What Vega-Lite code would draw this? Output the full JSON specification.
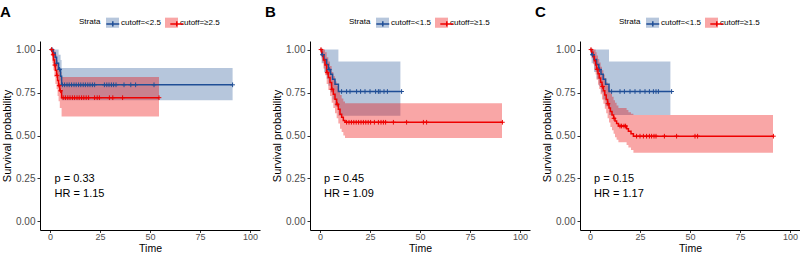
{
  "$schema": "https://vega.github.io/schema/vega-lite/v6.json",
  "padding": {"left": 0, "top": 5, "right": 0, "bottom": 0},
  "background": "white",
  "config": {
    "view": {"stroke": null},
    "font": "Liberation Sans",
    "axis": {"grid": false, "domainColor": "black", "domainWidth": 1, "tickColor": "#333333", "tickSize": 3, "labelFont": "Liberation Sans", "labelFontSize": 10, "labelColor": "#4D4D4D", "labelPadding": 2, "titleFont": "Liberation Sans", "titleFontSize": 11, "titleFontWeight": "normal", "titleColor": "black"},
    "axisX": {"labelFontSize": 9, "labelPadding": 0, "tickSize": 2.5, "titlePadding": 1.5, "titleFontSize": 10.5},
    "legend": {"labelFont": "Liberation Sans", "titleFont": "Liberation Sans"},
    "title": {"font": "Liberation Sans"}
  },
  "datasets": {
    "curve": [
      {"p": "A", "g": "cutoff=<2.5", "t": 0, "s": 1.0},
      {"p": "A", "g": "cutoff=<2.5", "t": 1.6, "s": 0.98},
      {"p": "A", "g": "cutoff=<2.5", "t": 2.6, "s": 0.955},
      {"p": "A", "g": "cutoff=<2.5", "t": 3.3, "s": 0.92},
      {"p": "A", "g": "cutoff=<2.5", "t": 4.3, "s": 0.885},
      {"p": "A", "g": "cutoff=<2.5", "t": 5.3, "s": 0.845},
      {"p": "A", "g": "cutoff=<2.5", "t": 5.8, "s": 0.795},
      {"p": "A", "g": "cutoff=<2.5", "t": 91.3, "s": 0.795},
      {"p": "A", "g": "cutoff=≥2.5", "t": 0, "s": 1.0},
      {"p": "A", "g": "cutoff=≥2.5", "t": 1.2, "s": 0.97},
      {"p": "A", "g": "cutoff=≥2.5", "t": 1.7, "s": 0.94},
      {"p": "A", "g": "cutoff=≥2.5", "t": 2.2, "s": 0.91},
      {"p": "A", "g": "cutoff=≥2.5", "t": 2.7, "s": 0.88},
      {"p": "A", "g": "cutoff=≥2.5", "t": 3.3, "s": 0.85},
      {"p": "A", "g": "cutoff=≥2.5", "t": 3.8, "s": 0.82},
      {"p": "A", "g": "cutoff=≥2.5", "t": 4.3, "s": 0.79},
      {"p": "A", "g": "cutoff=≥2.5", "t": 4.9, "s": 0.76},
      {"p": "A", "g": "cutoff=≥2.5", "t": 5.8, "s": 0.72},
      {"p": "A", "g": "cutoff=≥2.5", "t": 54.5, "s": 0.72},
      {"p": "B", "g": "cutoff=<1.5", "t": 0, "s": 1.0},
      {"p": "B", "g": "cutoff=<1.5", "t": 0.8, "s": 0.97},
      {"p": "B", "g": "cutoff=<1.5", "t": 2.0, "s": 0.942},
      {"p": "B", "g": "cutoff=<1.5", "t": 3.3, "s": 0.913},
      {"p": "B", "g": "cutoff=<1.5", "t": 4.2, "s": 0.884},
      {"p": "B", "g": "cutoff=<1.5", "t": 5.3, "s": 0.856},
      {"p": "B", "g": "cutoff=<1.5", "t": 6.3, "s": 0.827},
      {"p": "B", "g": "cutoff=<1.5", "t": 7.5, "s": 0.798},
      {"p": "B", "g": "cutoff=<1.5", "t": 9.2, "s": 0.756},
      {"p": "B", "g": "cutoff=<1.5", "t": 40.8, "s": 0.756},
      {"p": "B", "g": "cutoff=≥1.5", "t": 0, "s": 1.0},
      {"p": "B", "g": "cutoff=≥1.5", "t": 0.8, "s": 0.985},
      {"p": "B", "g": "cutoff=≥1.5", "t": 1.2, "s": 0.965},
      {"p": "B", "g": "cutoff=≥1.5", "t": 1.7, "s": 0.94},
      {"p": "B", "g": "cutoff=≥1.5", "t": 2.5, "s": 0.91},
      {"p": "B", "g": "cutoff=≥1.5", "t": 3.33, "s": 0.866},
      {"p": "B", "g": "cutoff=≥1.5", "t": 4.17, "s": 0.837},
      {"p": "B", "g": "cutoff=≥1.5", "t": 5.0, "s": 0.808},
      {"p": "B", "g": "cutoff=≥1.5", "t": 5.83, "s": 0.769},
      {"p": "B", "g": "cutoff=≥1.5", "t": 6.67, "s": 0.74},
      {"p": "B", "g": "cutoff=≥1.5", "t": 7.5, "s": 0.711},
      {"p": "B", "g": "cutoff=≥1.5", "t": 8.33, "s": 0.682},
      {"p": "B", "g": "cutoff=≥1.5", "t": 9.17, "s": 0.653},
      {"p": "B", "g": "cutoff=≥1.5", "t": 10.0, "s": 0.624},
      {"p": "B", "g": "cutoff=≥1.5", "t": 10.83, "s": 0.606},
      {"p": "B", "g": "cutoff=≥1.5", "t": 11.67, "s": 0.588},
      {"p": "B", "g": "cutoff=≥1.5", "t": 12.5, "s": 0.577},
      {"p": "B", "g": "cutoff=≥1.5", "t": 91.2, "s": 0.577},
      {"p": "C", "g": "cutoff=<1.5", "t": 0, "s": 1.0},
      {"p": "C", "g": "cutoff=<1.5", "t": 0.8, "s": 0.97},
      {"p": "C", "g": "cutoff=<1.5", "t": 2.0, "s": 0.942},
      {"p": "C", "g": "cutoff=<1.5", "t": 3.3, "s": 0.913},
      {"p": "C", "g": "cutoff=<1.5", "t": 4.4, "s": 0.884},
      {"p": "C", "g": "cutoff=<1.5", "t": 5.5, "s": 0.856},
      {"p": "C", "g": "cutoff=<1.5", "t": 6.6, "s": 0.827},
      {"p": "C", "g": "cutoff=<1.5", "t": 7.8, "s": 0.798},
      {"p": "C", "g": "cutoff=<1.5", "t": 9.5, "s": 0.756},
      {"p": "C", "g": "cutoff=<1.5", "t": 40.8, "s": 0.756},
      {"p": "C", "g": "cutoff=≥1.5", "t": 0, "s": 1.0},
      {"p": "C", "g": "cutoff=≥1.5", "t": 0.8, "s": 0.985},
      {"p": "C", "g": "cutoff=≥1.5", "t": 1.5, "s": 0.96},
      {"p": "C", "g": "cutoff=≥1.5", "t": 2.2, "s": 0.935},
      {"p": "C", "g": "cutoff=≥1.5", "t": 2.8, "s": 0.91},
      {"p": "C", "g": "cutoff=≥1.5", "t": 3.3, "s": 0.885},
      {"p": "C", "g": "cutoff=≥1.5", "t": 4.0, "s": 0.86},
      {"p": "C", "g": "cutoff=≥1.5", "t": 4.6, "s": 0.835},
      {"p": "C", "g": "cutoff=≥1.5", "t": 5.3, "s": 0.81},
      {"p": "C", "g": "cutoff=≥1.5", "t": 6.0, "s": 0.785},
      {"p": "C", "g": "cutoff=≥1.5", "t": 6.7, "s": 0.76},
      {"p": "C", "g": "cutoff=≥1.5", "t": 7.4, "s": 0.735},
      {"p": "C", "g": "cutoff=≥1.5", "t": 8.1, "s": 0.71},
      {"p": "C", "g": "cutoff=≥1.5", "t": 8.8, "s": 0.685},
      {"p": "C", "g": "cutoff=≥1.5", "t": 9.5, "s": 0.66},
      {"p": "C", "g": "cutoff=≥1.5", "t": 10.2, "s": 0.64},
      {"p": "C", "g": "cutoff=≥1.5", "t": 11.0, "s": 0.62},
      {"p": "C", "g": "cutoff=≥1.5", "t": 11.8, "s": 0.6},
      {"p": "C", "g": "cutoff=≥1.5", "t": 12.5, "s": 0.585},
      {"p": "C", "g": "cutoff=≥1.5", "t": 13.3, "s": 0.57},
      {"p": "C", "g": "cutoff=≥1.5", "t": 14.2, "s": 0.555},
      {"p": "C", "g": "cutoff=≥1.5", "t": 18.3, "s": 0.54},
      {"p": "C", "g": "cutoff=≥1.5", "t": 19.2, "s": 0.525},
      {"p": "C", "g": "cutoff=≥1.5", "t": 20.5, "s": 0.51},
      {"p": "C", "g": "cutoff=≥1.5", "t": 21.7, "s": 0.496},
      {"p": "C", "g": "cutoff=≥1.5", "t": 91.7, "s": 0.496}
    ],
    "band": [
      {"p": "A", "g": "cutoff=<2.5", "t": 0, "lo": 1.0, "hi": 1.0},
      {"p": "A", "g": "cutoff=<2.5", "t": 1.6, "lo": 0.94, "hi": 1.0},
      {"p": "A", "g": "cutoff=<2.5", "t": 2.6, "lo": 0.9, "hi": 1.0},
      {"p": "A", "g": "cutoff=<2.5", "t": 3.3, "lo": 0.86, "hi": 1.0},
      {"p": "A", "g": "cutoff=<2.5", "t": 4.3, "lo": 0.82, "hi": 0.97},
      {"p": "A", "g": "cutoff=<2.5", "t": 5.3, "lo": 0.77, "hi": 0.94},
      {"p": "A", "g": "cutoff=<2.5", "t": 5.8, "lo": 0.705, "hi": 0.893},
      {"p": "A", "g": "cutoff=<2.5", "t": 91.3, "lo": 0.705, "hi": 0.893},
      {"p": "A", "g": "cutoff=≥2.5", "t": 0, "lo": 1.0, "hi": 1.0},
      {"p": "A", "g": "cutoff=≥2.5", "t": 1.2, "lo": 0.92, "hi": 1.0},
      {"p": "A", "g": "cutoff=≥2.5", "t": 1.7, "lo": 0.88, "hi": 1.0},
      {"p": "A", "g": "cutoff=≥2.5", "t": 2.2, "lo": 0.84, "hi": 0.99},
      {"p": "A", "g": "cutoff=≥2.5", "t": 2.7, "lo": 0.8, "hi": 0.97},
      {"p": "A", "g": "cutoff=≥2.5", "t": 3.3, "lo": 0.77, "hi": 0.94},
      {"p": "A", "g": "cutoff=≥2.5", "t": 3.8, "lo": 0.73, "hi": 0.92},
      {"p": "A", "g": "cutoff=≥2.5", "t": 4.3, "lo": 0.7, "hi": 0.895},
      {"p": "A", "g": "cutoff=≥2.5", "t": 4.9, "lo": 0.66, "hi": 0.87},
      {"p": "A", "g": "cutoff=≥2.5", "t": 5.8, "lo": 0.61, "hi": 0.84},
      {"p": "A", "g": "cutoff=≥2.5", "t": 54.5, "lo": 0.61, "hi": 0.84},
      {"p": "B", "g": "cutoff=<1.5", "t": 0, "lo": 1.0, "hi": 1.0},
      {"p": "B", "g": "cutoff=<1.5", "t": 0.8, "lo": 0.92, "hi": 1.0},
      {"p": "B", "g": "cutoff=<1.5", "t": 2.0, "lo": 0.87, "hi": 1.0},
      {"p": "B", "g": "cutoff=<1.5", "t": 3.3, "lo": 0.83, "hi": 1.0},
      {"p": "B", "g": "cutoff=<1.5", "t": 4.2, "lo": 0.79, "hi": 1.0},
      {"p": "B", "g": "cutoff=<1.5", "t": 5.3, "lo": 0.75, "hi": 1.0},
      {"p": "B", "g": "cutoff=<1.5", "t": 6.3, "lo": 0.71, "hi": 1.0},
      {"p": "B", "g": "cutoff=<1.5", "t": 7.5, "lo": 0.67, "hi": 1.0},
      {"p": "B", "g": "cutoff=<1.5", "t": 9.2, "lo": 0.615, "hi": 0.93},
      {"p": "B", "g": "cutoff=<1.5", "t": 40.2, "lo": 0.615, "hi": 0.93},
      {"p": "B", "g": "cutoff=≥1.5", "t": 0, "lo": 1.0, "hi": 1.0},
      {"p": "B", "g": "cutoff=≥1.5", "t": 0.8, "lo": 0.95, "hi": 1.0},
      {"p": "B", "g": "cutoff=≥1.5", "t": 1.2, "lo": 0.925, "hi": 1.0},
      {"p": "B", "g": "cutoff=≥1.5", "t": 1.7, "lo": 0.89, "hi": 1.0},
      {"p": "B", "g": "cutoff=≥1.5", "t": 2.5, "lo": 0.85, "hi": 0.985},
      {"p": "B", "g": "cutoff=≥1.5", "t": 3.33, "lo": 0.8, "hi": 0.955},
      {"p": "B", "g": "cutoff=≥1.5", "t": 4.17, "lo": 0.765, "hi": 0.93},
      {"p": "B", "g": "cutoff=≥1.5", "t": 5.0, "lo": 0.73, "hi": 0.905},
      {"p": "B", "g": "cutoff=≥1.5", "t": 5.83, "lo": 0.69, "hi": 0.87},
      {"p": "B", "g": "cutoff=≥1.5", "t": 6.67, "lo": 0.66, "hi": 0.845},
      {"p": "B", "g": "cutoff=≥1.5", "t": 7.5, "lo": 0.63, "hi": 0.815},
      {"p": "B", "g": "cutoff=≥1.5", "t": 8.33, "lo": 0.6, "hi": 0.79},
      {"p": "B", "g": "cutoff=≥1.5", "t": 9.17, "lo": 0.57, "hi": 0.76},
      {"p": "B", "g": "cutoff=≥1.5", "t": 10.0, "lo": 0.54, "hi": 0.735},
      {"p": "B", "g": "cutoff=≥1.5", "t": 10.83, "lo": 0.52, "hi": 0.715},
      {"p": "B", "g": "cutoff=≥1.5", "t": 11.67, "lo": 0.5, "hi": 0.698},
      {"p": "B", "g": "cutoff=≥1.5", "t": 12.5, "lo": 0.486, "hi": 0.687},
      {"p": "B", "g": "cutoff=≥1.5", "t": 91.0, "lo": 0.486, "hi": 0.687},
      {"p": "C", "g": "cutoff=<1.5", "t": 0, "lo": 1.0, "hi": 1.0},
      {"p": "C", "g": "cutoff=<1.5", "t": 0.8, "lo": 0.92, "hi": 1.0},
      {"p": "C", "g": "cutoff=<1.5", "t": 2.0, "lo": 0.87, "hi": 1.0},
      {"p": "C", "g": "cutoff=<1.5", "t": 3.3, "lo": 0.83, "hi": 1.0},
      {"p": "C", "g": "cutoff=<1.5", "t": 4.4, "lo": 0.79, "hi": 1.0},
      {"p": "C", "g": "cutoff=<1.5", "t": 5.5, "lo": 0.75, "hi": 1.0},
      {"p": "C", "g": "cutoff=<1.5", "t": 6.6, "lo": 0.71, "hi": 1.0},
      {"p": "C", "g": "cutoff=<1.5", "t": 7.8, "lo": 0.67, "hi": 1.0},
      {"p": "C", "g": "cutoff=<1.5", "t": 9.5, "lo": 0.62, "hi": 0.93},
      {"p": "C", "g": "cutoff=<1.5", "t": 40.2, "lo": 0.62, "hi": 0.93},
      {"p": "C", "g": "cutoff=≥1.5", "t": 0, "lo": 1.0, "hi": 1.0},
      {"p": "C", "g": "cutoff=≥1.5", "t": 0.8, "lo": 0.95, "hi": 1.0},
      {"p": "C", "g": "cutoff=≥1.5", "t": 1.5, "lo": 0.915, "hi": 1.0},
      {"p": "C", "g": "cutoff=≥1.5", "t": 2.2, "lo": 0.885, "hi": 1.0},
      {"p": "C", "g": "cutoff=≥1.5", "t": 2.8, "lo": 0.855, "hi": 0.985},
      {"p": "C", "g": "cutoff=≥1.5", "t": 3.3, "lo": 0.825, "hi": 0.965},
      {"p": "C", "g": "cutoff=≥1.5", "t": 4.0, "lo": 0.795, "hi": 0.945},
      {"p": "C", "g": "cutoff=≥1.5", "t": 4.6, "lo": 0.77, "hi": 0.925},
      {"p": "C", "g": "cutoff=≥1.5", "t": 5.3, "lo": 0.74, "hi": 0.9},
      {"p": "C", "g": "cutoff=≥1.5", "t": 6.0, "lo": 0.71, "hi": 0.88},
      {"p": "C", "g": "cutoff=≥1.5", "t": 6.7, "lo": 0.685, "hi": 0.855},
      {"p": "C", "g": "cutoff=≥1.5", "t": 7.4, "lo": 0.655, "hi": 0.835},
      {"p": "C", "g": "cutoff=≥1.5", "t": 8.1, "lo": 0.63, "hi": 0.81},
      {"p": "C", "g": "cutoff=≥1.5", "t": 8.8, "lo": 0.6, "hi": 0.79},
      {"p": "C", "g": "cutoff=≥1.5", "t": 9.5, "lo": 0.575, "hi": 0.765},
      {"p": "C", "g": "cutoff=≥1.5", "t": 10.2, "lo": 0.55, "hi": 0.745},
      {"p": "C", "g": "cutoff=≥1.5", "t": 11.0, "lo": 0.53, "hi": 0.725},
      {"p": "C", "g": "cutoff=≥1.5", "t": 11.8, "lo": 0.51, "hi": 0.705},
      {"p": "C", "g": "cutoff=≥1.5", "t": 12.5, "lo": 0.49, "hi": 0.69},
      {"p": "C", "g": "cutoff=≥1.5", "t": 13.3, "lo": 0.475, "hi": 0.675},
      {"p": "C", "g": "cutoff=≥1.5", "t": 14.2, "lo": 0.46, "hi": 0.66},
      {"p": "C", "g": "cutoff=≥1.5", "t": 18.3, "lo": 0.445, "hi": 0.648},
      {"p": "C", "g": "cutoff=≥1.5", "t": 19.2, "lo": 0.43, "hi": 0.636},
      {"p": "C", "g": "cutoff=≥1.5", "t": 20.5, "lo": 0.415, "hi": 0.627},
      {"p": "C", "g": "cutoff=≥1.5", "t": 21.7, "lo": 0.4, "hi": 0.619},
      {"p": "C", "g": "cutoff=≥1.5", "t": 91.5, "lo": 0.4, "hi": 0.619}
    ],
    "cens": [
      {"p": "A", "g": "cutoff=<2.5", "t": 1.0, "s": 1.0},
      {"p": "A", "g": "cutoff=<2.5", "t": 3.3, "s": 0.92},
      {"p": "A", "g": "cutoff=<2.5", "t": 4.8, "s": 0.885},
      {"p": "A", "g": "cutoff=<2.5", "t": 6.2, "s": 0.795},
      {"p": "A", "g": "cutoff=<2.5", "t": 7.3, "s": 0.795},
      {"p": "A", "g": "cutoff=<2.5", "t": 8.5, "s": 0.795},
      {"p": "A", "g": "cutoff=<2.5", "t": 9.6, "s": 0.795},
      {"p": "A", "g": "cutoff=<2.5", "t": 10.8, "s": 0.795},
      {"p": "A", "g": "cutoff=<2.5", "t": 12.0, "s": 0.795},
      {"p": "A", "g": "cutoff=<2.5", "t": 13.1, "s": 0.795},
      {"p": "A", "g": "cutoff=<2.5", "t": 14.3, "s": 0.795},
      {"p": "A", "g": "cutoff=<2.5", "t": 15.4, "s": 0.795},
      {"p": "A", "g": "cutoff=<2.5", "t": 16.6, "s": 0.795},
      {"p": "A", "g": "cutoff=<2.5", "t": 17.7, "s": 0.795},
      {"p": "A", "g": "cutoff=<2.5", "t": 18.9, "s": 0.795},
      {"p": "A", "g": "cutoff=<2.5", "t": 20.0, "s": 0.795},
      {"p": "A", "g": "cutoff=<2.5", "t": 21.2, "s": 0.795},
      {"p": "A", "g": "cutoff=<2.5", "t": 22.3, "s": 0.795},
      {"p": "A", "g": "cutoff=<2.5", "t": 27.2, "s": 0.795},
      {"p": "A", "g": "cutoff=<2.5", "t": 28.4, "s": 0.795},
      {"p": "A", "g": "cutoff=<2.5", "t": 29.5, "s": 0.795},
      {"p": "A", "g": "cutoff=<2.5", "t": 30.7, "s": 0.795},
      {"p": "A", "g": "cutoff=<2.5", "t": 31.8, "s": 0.795},
      {"p": "A", "g": "cutoff=<2.5", "t": 33.0, "s": 0.795},
      {"p": "A", "g": "cutoff=<2.5", "t": 37.0, "s": 0.795},
      {"p": "A", "g": "cutoff=<2.5", "t": 40.4, "s": 0.795},
      {"p": "A", "g": "cutoff=<2.5", "t": 42.8, "s": 0.795},
      {"p": "A", "g": "cutoff=<2.5", "t": 52.0, "s": 0.795},
      {"p": "A", "g": "cutoff=<2.5", "t": 91.3, "s": 0.795},
      {"p": "A", "g": "cutoff=≥2.5", "t": 0.8, "s": 1.0},
      {"p": "A", "g": "cutoff=≥2.5", "t": 1.6, "s": 0.97},
      {"p": "A", "g": "cutoff=≥2.5", "t": 2.4, "s": 0.91},
      {"p": "A", "g": "cutoff=≥2.5", "t": 3.5, "s": 0.85},
      {"p": "A", "g": "cutoff=≥2.5", "t": 4.6, "s": 0.79},
      {"p": "A", "g": "cutoff=≥2.5", "t": 5.3, "s": 0.76},
      {"p": "A", "g": "cutoff=≥2.5", "t": 6.6, "s": 0.72},
      {"p": "A", "g": "cutoff=≥2.5", "t": 7.7, "s": 0.72},
      {"p": "A", "g": "cutoff=≥2.5", "t": 8.9, "s": 0.72},
      {"p": "A", "g": "cutoff=≥2.5", "t": 10.0, "s": 0.72},
      {"p": "A", "g": "cutoff=≥2.5", "t": 11.2, "s": 0.72},
      {"p": "A", "g": "cutoff=≥2.5", "t": 12.3, "s": 0.72},
      {"p": "A", "g": "cutoff=≥2.5", "t": 13.5, "s": 0.72},
      {"p": "A", "g": "cutoff=≥2.5", "t": 14.6, "s": 0.72},
      {"p": "A", "g": "cutoff=≥2.5", "t": 15.8, "s": 0.72},
      {"p": "A", "g": "cutoff=≥2.5", "t": 16.9, "s": 0.72},
      {"p": "A", "g": "cutoff=≥2.5", "t": 18.1, "s": 0.72},
      {"p": "A", "g": "cutoff=≥2.5", "t": 19.3, "s": 0.72},
      {"p": "A", "g": "cutoff=≥2.5", "t": 22.3, "s": 0.72},
      {"p": "A", "g": "cutoff=≥2.5", "t": 23.6, "s": 0.72},
      {"p": "A", "g": "cutoff=≥2.5", "t": 24.7, "s": 0.72},
      {"p": "A", "g": "cutoff=≥2.5", "t": 29.7, "s": 0.72},
      {"p": "A", "g": "cutoff=≥2.5", "t": 31.4, "s": 0.72},
      {"p": "A", "g": "cutoff=≥2.5", "t": 36.3, "s": 0.72},
      {"p": "A", "g": "cutoff=≥2.5", "t": 54.5, "s": 0.72},
      {"p": "B", "g": "cutoff=<1.5", "t": 1.2, "s": 0.97},
      {"p": "B", "g": "cutoff=<1.5", "t": 4.6, "s": 0.884},
      {"p": "B", "g": "cutoff=<1.5", "t": 10.8, "s": 0.756},
      {"p": "B", "g": "cutoff=<1.5", "t": 13.3, "s": 0.756},
      {"p": "B", "g": "cutoff=<1.5", "t": 15.0, "s": 0.756},
      {"p": "B", "g": "cutoff=<1.5", "t": 18.3, "s": 0.756},
      {"p": "B", "g": "cutoff=<1.5", "t": 20.3, "s": 0.756},
      {"p": "B", "g": "cutoff=<1.5", "t": 22.5, "s": 0.756},
      {"p": "B", "g": "cutoff=<1.5", "t": 25.0, "s": 0.756},
      {"p": "B", "g": "cutoff=<1.5", "t": 27.8, "s": 0.756},
      {"p": "B", "g": "cutoff=<1.5", "t": 29.2, "s": 0.756},
      {"p": "B", "g": "cutoff=<1.5", "t": 30.0, "s": 0.756},
      {"p": "B", "g": "cutoff=<1.5", "t": 32.0, "s": 0.756},
      {"p": "B", "g": "cutoff=<1.5", "t": 33.7, "s": 0.756},
      {"p": "B", "g": "cutoff=<1.5", "t": 40.8, "s": 0.756},
      {"p": "B", "g": "cutoff=≥1.5", "t": 0.5, "s": 1.0},
      {"p": "B", "g": "cutoff=≥1.5", "t": 3.6, "s": 0.866},
      {"p": "B", "g": "cutoff=≥1.5", "t": 6.0, "s": 0.769},
      {"p": "B", "g": "cutoff=≥1.5", "t": 8.6, "s": 0.682},
      {"p": "B", "g": "cutoff=≥1.5", "t": 13.3, "s": 0.577},
      {"p": "B", "g": "cutoff=≥1.5", "t": 14.5, "s": 0.577},
      {"p": "B", "g": "cutoff=≥1.5", "t": 15.7, "s": 0.577},
      {"p": "B", "g": "cutoff=≥1.5", "t": 16.9, "s": 0.577},
      {"p": "B", "g": "cutoff=≥1.5", "t": 18.1, "s": 0.577},
      {"p": "B", "g": "cutoff=≥1.5", "t": 19.3, "s": 0.577},
      {"p": "B", "g": "cutoff=≥1.5", "t": 20.5, "s": 0.577},
      {"p": "B", "g": "cutoff=≥1.5", "t": 21.7, "s": 0.577},
      {"p": "B", "g": "cutoff=≥1.5", "t": 22.9, "s": 0.577},
      {"p": "B", "g": "cutoff=≥1.5", "t": 24.1, "s": 0.577},
      {"p": "B", "g": "cutoff=≥1.5", "t": 25.3, "s": 0.577},
      {"p": "B", "g": "cutoff=≥1.5", "t": 27.2, "s": 0.577},
      {"p": "B", "g": "cutoff=≥1.5", "t": 29.2, "s": 0.577},
      {"p": "B", "g": "cutoff=≥1.5", "t": 30.5, "s": 0.577},
      {"p": "B", "g": "cutoff=≥1.5", "t": 31.7, "s": 0.577},
      {"p": "B", "g": "cutoff=≥1.5", "t": 32.8, "s": 0.577},
      {"p": "B", "g": "cutoff=≥1.5", "t": 36.7, "s": 0.577},
      {"p": "B", "g": "cutoff=≥1.5", "t": 43.3, "s": 0.577},
      {"p": "B", "g": "cutoff=≥1.5", "t": 51.7, "s": 0.577},
      {"p": "B", "g": "cutoff=≥1.5", "t": 53.3, "s": 0.577},
      {"p": "B", "g": "cutoff=≥1.5", "t": 91.2, "s": 0.577},
      {"p": "C", "g": "cutoff=<1.5", "t": 1.2, "s": 0.97},
      {"p": "C", "g": "cutoff=<1.5", "t": 4.8, "s": 0.884},
      {"p": "C", "g": "cutoff=<1.5", "t": 10.8, "s": 0.756},
      {"p": "C", "g": "cutoff=<1.5", "t": 15.0, "s": 0.756},
      {"p": "C", "g": "cutoff=<1.5", "t": 17.2, "s": 0.756},
      {"p": "C", "g": "cutoff=<1.5", "t": 20.0, "s": 0.756},
      {"p": "C", "g": "cutoff=<1.5", "t": 22.5, "s": 0.756},
      {"p": "C", "g": "cutoff=<1.5", "t": 25.0, "s": 0.756},
      {"p": "C", "g": "cutoff=<1.5", "t": 27.5, "s": 0.756},
      {"p": "C", "g": "cutoff=<1.5", "t": 29.7, "s": 0.756},
      {"p": "C", "g": "cutoff=<1.5", "t": 31.7, "s": 0.756},
      {"p": "C", "g": "cutoff=<1.5", "t": 33.0, "s": 0.756},
      {"p": "C", "g": "cutoff=<1.5", "t": 34.2, "s": 0.756},
      {"p": "C", "g": "cutoff=<1.5", "t": 40.8, "s": 0.756},
      {"p": "C", "g": "cutoff=≥1.5", "t": 0.5, "s": 1.0},
      {"p": "C", "g": "cutoff=≥1.5", "t": 3.6, "s": 0.885},
      {"p": "C", "g": "cutoff=≥1.5", "t": 6.3, "s": 0.785},
      {"p": "C", "g": "cutoff=≥1.5", "t": 9.0, "s": 0.685},
      {"p": "C", "g": "cutoff=≥1.5", "t": 12.0, "s": 0.6},
      {"p": "C", "g": "cutoff=≥1.5", "t": 15.0, "s": 0.555},
      {"p": "C", "g": "cutoff=≥1.5", "t": 15.8, "s": 0.555},
      {"p": "C", "g": "cutoff=≥1.5", "t": 17.0, "s": 0.555},
      {"p": "C", "g": "cutoff=≥1.5", "t": 17.8, "s": 0.555},
      {"p": "C", "g": "cutoff=≥1.5", "t": 23.3, "s": 0.496},
      {"p": "C", "g": "cutoff=≥1.5", "t": 25.0, "s": 0.496},
      {"p": "C", "g": "cutoff=≥1.5", "t": 26.7, "s": 0.496},
      {"p": "C", "g": "cutoff=≥1.5", "t": 28.3, "s": 0.496},
      {"p": "C", "g": "cutoff=≥1.5", "t": 29.7, "s": 0.496},
      {"p": "C", "g": "cutoff=≥1.5", "t": 30.8, "s": 0.496},
      {"p": "C", "g": "cutoff=≥1.5", "t": 32.0, "s": 0.496},
      {"p": "C", "g": "cutoff=≥1.5", "t": 33.0, "s": 0.496},
      {"p": "C", "g": "cutoff=≥1.5", "t": 37.2, "s": 0.496},
      {"p": "C", "g": "cutoff=≥1.5", "t": 43.3, "s": 0.496},
      {"p": "C", "g": "cutoff=≥1.5", "t": 52.5, "s": 0.496},
      {"p": "C", "g": "cutoff=≥1.5", "t": 53.8, "s": 0.496},
      {"p": "C", "g": "cutoff=≥1.5", "t": 91.7, "s": 0.496}
    ],
    "note": [
      {"p": "A", "t": 2.3, "s": 0.23, "label": "p = 0.33"},
      {"p": "A", "t": 2.3, "s": 0.143, "label": "HR = 1.15"},
      {"p": "B", "t": 2.0, "s": 0.23, "label": "p = 0.45"},
      {"p": "B", "t": 2.0, "s": 0.143, "label": "HR = 1.09"},
      {"p": "C", "t": 2.0, "s": 0.23, "label": "p = 0.15"},
      {"p": "C", "t": 2.0, "s": 0.143, "label": "HR = 1.17"}
    ]
  },
  "spacing": 50,
  "bounds": "flush",
  "resolve": {"scale": {"fill": "independent", "stroke": "independent", "color": "independent"}},
  "hconcat": [
    {
      "width": 220, "height": 189,
      "title": {"text": "A", "anchor": "start", "frame": "group", "fontSize": 15, "fontWeight": "bold", "color": "black", "dx": -40, "offset": -4},
      "layer": [
        {"data": {"name": "band"}, "transform": [{"filter": "datum.p === 'A'"}],
         "mark": {"type": "area", "interpolate": "step-after", "opacity": 0.35},
         "encoding": {
           "x": {"field": "t", "type": "quantitative", "scale": {"domain": [-5, 105], "nice": false}, "axis": {"values": [0, 25, 50, 75, 100], "title": "Time"}},
           "y": {"field": "lo", "type": "quantitative", "scale": {"domain": [-0.05, 1.05], "nice": false, "zero": false}, "axis": {"values": [0, 0.25, 0.5, 0.75, 1], "format": ".2f", "title": "Survival probability", "titlePadding": 3}},
           "y2": {"field": "hi"},
           "fill": {"field": "g", "type": "nominal", "scale": {"range": ["#2E5C9A", "#EE0000"]},
             "legend": {"orient": "none", "legendX": 39, "legendY": -25, "direction": "horizontal", "title": "Strata", "titleOrient": "left", "titleAnchor": "middle", "titleBaseline": "middle", "titleFontSize": 8, "titleFontWeight": "normal", "titleColor": "black", "titlePadding": 5, "labelFontSize": 8, "labelColor": "black", "labelOffset": 2, "columnPadding": 4, "symbolType": "M-1,-0.78H1V0.78H-1Z", "symbolSize": 169, "symbolOpacity": 0.35, "symbolStrokeWidth": 0}}
         }},
        {"data": {"name": "curve"}, "transform": [{"filter": "datum.p === 'A'"}],
         "mark": {"type": "line", "interpolate": "step-after", "strokeWidth": 1.5},
         "encoding": {
           "x": {"field": "t", "type": "quantitative"},
           "y": {"field": "s", "type": "quantitative"},
           "stroke": {"field": "g", "type": "nominal", "scale": {"range": ["#1F4E96", "#EE0000"]},
             "legend": {"orient": "none", "legendX": 65.3, "legendY": -25, "direction": "horizontal", "title": null, "labelExpr": "''", "labelFontSize": 8, "labelOffset": 2, "columnPadding": 45, "symbolType": "M-1,0H1M0,-0.42V0.42", "symbolSize": 169, "symbolStrokeWidth": 1.5}}
         }},
        {"data": {"name": "cens"}, "transform": [{"filter": "datum.p === 'A'"}],
         "mark": {"type": "point", "shape": "M-1,0H1M0,-1V1", "size": 22, "filled": false, "strokeWidth": 1, "opacity": 1},
         "encoding": {
           "x": {"field": "t", "type": "quantitative"},
           "y": {"field": "s", "type": "quantitative"},
           "color": {"field": "g", "type": "nominal", "scale": {"range": ["#1F4E96", "#EE0000"]}, "legend": null}
         }},
        {"data": {"name": "note"}, "transform": [{"filter": "datum.p === 'A'"}],
         "mark": {"type": "text", "align": "left", "baseline": "alphabetic", "fontSize": 11, "font": "Liberation Sans", "color": "black"},
         "encoding": {
           "x": {"field": "t", "type": "quantitative"},
           "y": {"field": "s", "type": "quantitative"},
           "text": {"field": "label"}
         }}
      ]
    },
    {
      "width": 220, "height": 189,
      "title": {"text": "B", "anchor": "start", "frame": "group", "fontSize": 15, "fontWeight": "bold", "color": "black", "dx": -45, "offset": -4},
      "layer": [
        {"data": {"name": "band"}, "transform": [{"filter": "datum.p === 'B'"}],
         "mark": {"type": "area", "interpolate": "step-after", "opacity": 0.35},
         "encoding": {
           "x": {"field": "t", "type": "quantitative", "scale": {"domain": [-5, 105], "nice": false}, "axis": {"values": [0, 25, 50, 75, 100], "title": "Time"}},
           "y": {"field": "lo", "type": "quantitative", "scale": {"domain": [-0.05, 1.05], "nice": false, "zero": false}, "axis": {"values": [0, 0.25, 0.5, 0.75, 1], "format": ".2f", "title": "Survival probability", "titlePadding": 3}},
           "y2": {"field": "hi"},
           "fill": {"field": "g", "type": "nominal", "scale": {"range": ["#2E5C9A", "#EE0000"]},
             "legend": {"orient": "none", "legendX": 39, "legendY": -25, "direction": "horizontal", "title": "Strata", "titleOrient": "left", "titleAnchor": "middle", "titleBaseline": "middle", "titleFontSize": 8, "titleFontWeight": "normal", "titleColor": "black", "titlePadding": 5, "labelFontSize": 8, "labelColor": "black", "labelOffset": 2, "columnPadding": 4, "symbolType": "M-1,-0.78H1V0.78H-1Z", "symbolSize": 169, "symbolOpacity": 0.35, "symbolStrokeWidth": 0}}
         }},
        {"data": {"name": "curve"}, "transform": [{"filter": "datum.p === 'B'"}],
         "mark": {"type": "line", "interpolate": "step-after", "strokeWidth": 1.5},
         "encoding": {
           "x": {"field": "t", "type": "quantitative"},
           "y": {"field": "s", "type": "quantitative"},
           "stroke": {"field": "g", "type": "nominal", "scale": {"range": ["#1F4E96", "#EE0000"]},
             "legend": {"orient": "none", "legendX": 65.3, "legendY": -25, "direction": "horizontal", "title": null, "labelExpr": "''", "labelFontSize": 8, "labelOffset": 2, "columnPadding": 45, "symbolType": "M-1,0H1M0,-0.42V0.42", "symbolSize": 169, "symbolStrokeWidth": 1.5}}
         }},
        {"data": {"name": "cens"}, "transform": [{"filter": "datum.p === 'B'"}],
         "mark": {"type": "point", "shape": "M-1,0H1M0,-1V1", "size": 22, "filled": false, "strokeWidth": 1, "opacity": 1},
         "encoding": {
           "x": {"field": "t", "type": "quantitative"},
           "y": {"field": "s", "type": "quantitative"},
           "color": {"field": "g", "type": "nominal", "scale": {"range": ["#1F4E96", "#EE0000"]}, "legend": null}
         }},
        {"data": {"name": "note"}, "transform": [{"filter": "datum.p === 'B'"}],
         "mark": {"type": "text", "align": "left", "baseline": "alphabetic", "fontSize": 11, "font": "Liberation Sans", "color": "black"},
         "encoding": {
           "x": {"field": "t", "type": "quantitative"},
           "y": {"field": "s", "type": "quantitative"},
           "text": {"field": "label"}
         }}
      ]
    },
    {
      "width": 220, "height": 189,
      "title": {"text": "C", "anchor": "start", "frame": "group", "fontSize": 15, "fontWeight": "bold", "color": "black", "dx": -45, "offset": -4},
      "layer": [
        {"data": {"name": "band"}, "transform": [{"filter": "datum.p === 'C'"}],
         "mark": {"type": "area", "interpolate": "step-after", "opacity": 0.35},
         "encoding": {
           "x": {"field": "t", "type": "quantitative", "scale": {"domain": [-5, 105], "nice": false}, "axis": {"values": [0, 25, 50, 75, 100], "title": "Time"}},
           "y": {"field": "lo", "type": "quantitative", "scale": {"domain": [-0.05, 1.05], "nice": false, "zero": false}, "axis": {"values": [0, 0.25, 0.5, 0.75, 1], "format": ".2f", "title": "Survival probability", "titlePadding": 3}},
           "y2": {"field": "hi"},
           "fill": {"field": "g", "type": "nominal", "scale": {"range": ["#2E5C9A", "#EE0000"]},
             "legend": {"orient": "none", "legendX": 39, "legendY": -25, "direction": "horizontal", "title": "Strata", "titleOrient": "left", "titleAnchor": "middle", "titleBaseline": "middle", "titleFontSize": 8, "titleFontWeight": "normal", "titleColor": "black", "titlePadding": 5, "labelFontSize": 8, "labelColor": "black", "labelOffset": 2, "columnPadding": 4, "symbolType": "M-1,-0.78H1V0.78H-1Z", "symbolSize": 169, "symbolOpacity": 0.35, "symbolStrokeWidth": 0}}
         }},
        {"data": {"name": "curve"}, "transform": [{"filter": "datum.p === 'C'"}],
         "mark": {"type": "line", "interpolate": "step-after", "strokeWidth": 1.5},
         "encoding": {
           "x": {"field": "t", "type": "quantitative"},
           "y": {"field": "s", "type": "quantitative"},
           "stroke": {"field": "g", "type": "nominal", "scale": {"range": ["#1F4E96", "#EE0000"]},
             "legend": {"orient": "none", "legendX": 65.3, "legendY": -25, "direction": "horizontal", "title": null, "labelExpr": "''", "labelFontSize": 8, "labelOffset": 2, "columnPadding": 45, "symbolType": "M-1,0H1M0,-0.42V0.42", "symbolSize": 169, "symbolStrokeWidth": 1.5}}
         }},
        {"data": {"name": "cens"}, "transform": [{"filter": "datum.p === 'C'"}],
         "mark": {"type": "point", "shape": "M-1,0H1M0,-1V1", "size": 22, "filled": false, "strokeWidth": 1, "opacity": 1},
         "encoding": {
           "x": {"field": "t", "type": "quantitative"},
           "y": {"field": "s", "type": "quantitative"},
           "color": {"field": "g", "type": "nominal", "scale": {"range": ["#1F4E96", "#EE0000"]}, "legend": null}
         }},
        {"data": {"name": "note"}, "transform": [{"filter": "datum.p === 'C'"}],
         "mark": {"type": "text", "align": "left", "baseline": "alphabetic", "fontSize": 11, "font": "Liberation Sans", "color": "black"},
         "encoding": {
           "x": {"field": "t", "type": "quantitative"},
           "y": {"field": "s", "type": "quantitative"},
           "text": {"field": "label"}
         }}
      ]
    }
  ]
}
